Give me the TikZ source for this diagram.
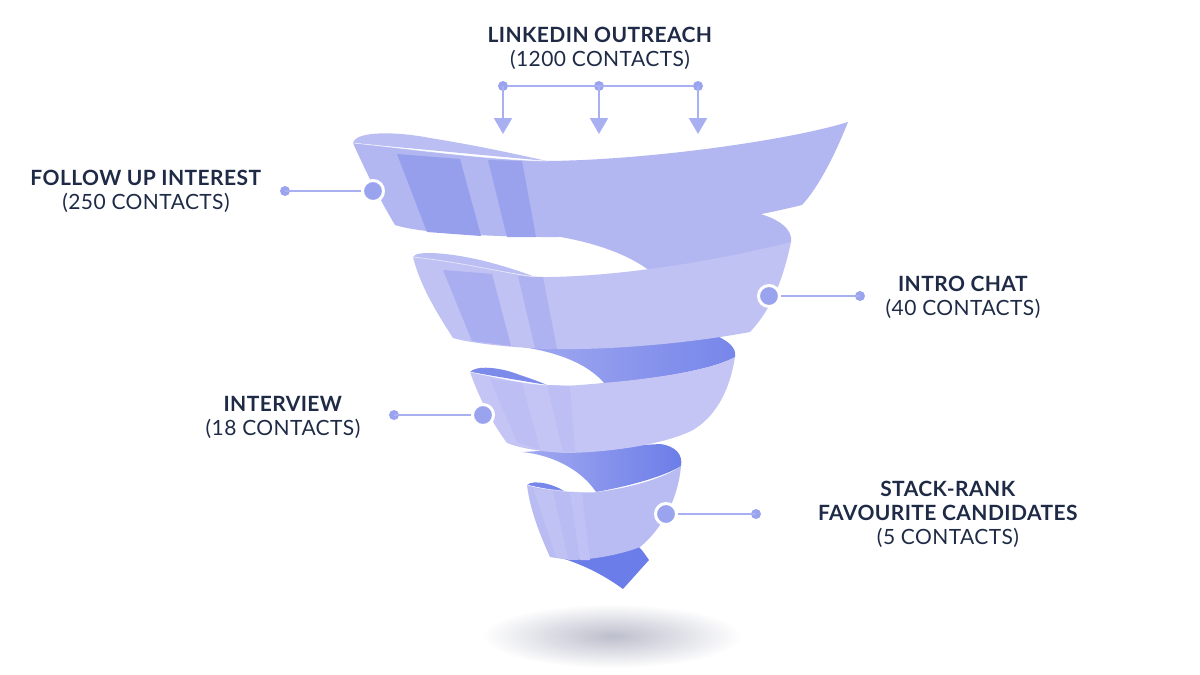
\documentclass[tikz,border=0pt]{standalone}
\usepackage{fontspec}
\setmainfont[LetterSpace=2]{Lato}
\usetikzlibrary{arrows.meta}

\definecolor{ink}{HTML}{1F2B46}
\definecolor{dotc}{HTML}{9AA4EE}
\definecolor{linec}{HTML}{A9B0F2}
\definecolor{bandA}{HTML}{B2B6F1}
\definecolor{bandB}{HTML}{C0C2F3}
\definecolor{bandC}{HTML}{C4C5F5}
\definecolor{bandD}{HTML}{B9BBF3}
\definecolor{stripe}{HTML}{969FEC}
\definecolor{stripel}{HTML}{A9AEF0}
\definecolor{deep}{HTML}{6B7DE8}
\definecolor{mid}{HTML}{A3AAF0}
\definecolor{lip}{HTML}{BBBEF3}
\definecolor{shadowc}{HTML}{BCBECC}

\tikzset{
  lbl/.style={align=center, text=ink, font=\fontsize{21}{24}\selectfont, inner sep=0pt},
  bigdot/.style={circle, fill=dotc, draw=white, line width=3pt, minimum size=21pt, inner sep=0pt},
  smalldot/.style={circle, fill=dotc, minimum size=10pt, inner sep=0pt},
  conn/.style={draw=linec, line width=2.2pt},
  rim/.style={draw=white, draw opacity=.55, line width=.8pt},
}

\begin{document}
\begin{tikzpicture}[x=1pt, y=-1pt]
  \useasboundingbox (0,0) rectangle (1200,675);

  % shadow
  \shade[inner color=shadowc, outer color=white] (612,636) ellipse [x radius=130, y radius=32];

  % tip and inner faces
  \fill[deep] (558,557) -- (637,545) .. controls (642,550) .. (649,560) -- (623,589) .. controls (605,576) and (585,565) .. (558,557) -- cycle;
  \shade[left color=mid, right color=deep] (522,452) .. controls (560,456) and (585,475) .. (596,492) .. controls (630,486) and (665,476) .. (681,466) .. controls (683,455) and (676,446) .. (660,444) -- cycle;
  \shade[left color=mid, right color=deep!80!mid] (505,345) .. controls (560,350) and (590,366) .. (605,384) .. controls (650,379) and (710,371) .. (735,357) .. controls (737,348) and (728,340) .. (712,334) -- cycle;
  \fill[bandA] (555,236) .. controls (610,245) and (640,262) .. (655,275) .. controls (700,268) and (760,255) .. (791,242) .. controls (793,230) and (780,219) .. (757,213) -- cycle;

  % band 1
  \fill[lip] (353,143) .. controls (356,130) and (400,132) .. (430,138) .. controls (480,146) and (520,155) .. (547,161) -- cycle;
  \fill[bandA] (353,143) .. controls (420,150) and (490,160) .. (547,161) .. controls (650,160) and (790,140) .. (848,122)
    .. controls (835,155) and (818,188) .. (802,205) .. controls (720,225) and (620,238) .. (540,237)
    .. controls (480,236) and (420,233) .. (395,225) .. controls (380,200) and (365,170) .. (353,143) -- cycle;
  \fill[stripe] (397,154) -- (460,159) -- (481,236) -- (427,232) -- cycle;
  \fill[stripe!85!bandA] (488,160) -- (522,161) -- (536,237) -- (507,237) -- cycle;
  \draw[rim] (353,143) .. controls (420,150) and (490,160) .. (547,161);

  % band 2
  \fill[lip] (413,257) .. controls (416,250) and (450,253) .. (480,260) .. controls (505,266) and (525,273) .. (535,277) -- cycle;
  \fill[bandB] (413,257) .. controls (460,262) and (500,272) .. (535,277) .. controls (600,278) and (700,265) .. (791,242)
    .. controls (781,290) and (766,315) .. (750,332) .. controls (680,345) and (600,350) .. (557,349)
    .. controls (510,348) and (470,343) .. (453,338) .. controls (435,310) and (420,285) .. (413,257) -- cycle;
  \fill[stripel] (443,270) -- (492,274) -- (511,346) -- (472,341) -- cycle;
  \fill[stripel!80!bandB] (518,276) -- (543,277) -- (557,349) -- (535,348) -- cycle;
  \draw[rim] (413,257) .. controls (460,262) and (500,272) .. (535,277);

  % band 3
  \fill[deep!70!mid] (470,372) .. controls (476,365) and (500,367) .. (520,375) .. controls (535,380) and (545,384) .. (547,385) -- cycle;
  \fill[bandC] (470,372) .. controls (500,378) and (525,384) .. (547,385) .. controls (570,386) .. (603,383) .. controls (650,379) and (710,371) .. (735,357)
    .. controls (729,395) and (713,418) .. (693,430) .. controls (670,442) and (620,452) .. (567,453)
    .. controls (540,452) and (520,448) .. (507,443) .. controls (490,420) and (478,395) .. (470,372) -- cycle;
  \fill[bandD!70!bandC] (490,379) -- (522,383) -- (540,450) -- (517,442) -- cycle;
  \fill[bandD!60!bandC] (547,385) -- (570,386) -- (575,452) -- (563,452) -- cycle;
  \draw[rim] (470,372) .. controls (500,378) and (525,384) .. (547,385);

  % band 4
  \fill[deep!80!mid] (527,485) .. controls (533,479) and (555,484) .. (567,493) -- cycle;
  \fill[bandD] (527,485) .. controls (545,490) and (575,493) .. (597,492) .. controls (630,488) and (665,478) .. (681,466)
    .. controls (678,500) and (661,530) .. (640,547) .. controls (620,555) and (590,560) .. (570,560)
    .. controls (560,559) .. (550,557) .. controls (540,535) and (530,510) .. (527,485) -- cycle;
  \fill[bandC!70!bandD] (533,488) -- (553,491) -- (568,559) -- (556,557) -- cycle;
  \fill[bandC!60!bandD] (570,493) -- (582,493) -- (590,560) -- (580,560) -- cycle;
  \draw[rim] (527,485) .. controls (545,490) and (575,493) .. (597,492);

  % labels
  \node[lbl] (outreach) at (600,48) {\textbf{LINKEDIN OUTREACH}\\(1200 CONTACTS)};
  \node[lbl] (follow) at (146,191) {\textbf{FOLLOW UP INTEREST}\\(250 CONTACTS)};
  \node[lbl] (chat) at (963,297) {\textbf{INTRO CHAT}\\(40 CONTACTS)};
  \node[lbl] (interview) at (283,417) {\textbf{INTERVIEW}\\(18 CONTACTS)};
  \node[lbl] (rank) at (948,514) {\textbf{STACK-RANK}\\\textbf{FAVOURITE CANDIDATES}\\(5 CONTACTS)};

  % top feed
  \node[smalldot] (feedL) at (503,86) {};
  \node[smalldot] (feedM) at (599,86) {};
  \node[smalldot] (feedR) at (698,86) {};
  \coordinate (dropL) at (503,134);
  \coordinate (dropM) at (599,134);
  \coordinate (dropR) at (698,134);
  \draw[conn] (feedL) -- (feedR);
  \foreach \n in {L,M,R}
    \draw[conn, -{Triangle[width=18pt, length=16pt]}] (feed\n.center) -- (drop\n);

  % side connectors
  \node[smalldot] (followS) at (285,191) {};
  \node[smalldot] (chatS) at (860,296) {};
  \node[smalldot] (interviewS) at (394,415) {};
  \node[smalldot] (rankS) at (756,514) {};
  \draw[conn] (followS.center) -- (373,191) node[bigdot] (followB) {};
  \draw[conn] (chatS.center) -- (769,296) node[bigdot] (chatB) {};
  \draw[conn] (interviewS.center) -- (483,415) node[bigdot] (interviewB) {};
  \draw[conn] (rankS.center) -- (666,514) node[bigdot] (rankB) {};
\end{tikzpicture}
\end{document}
